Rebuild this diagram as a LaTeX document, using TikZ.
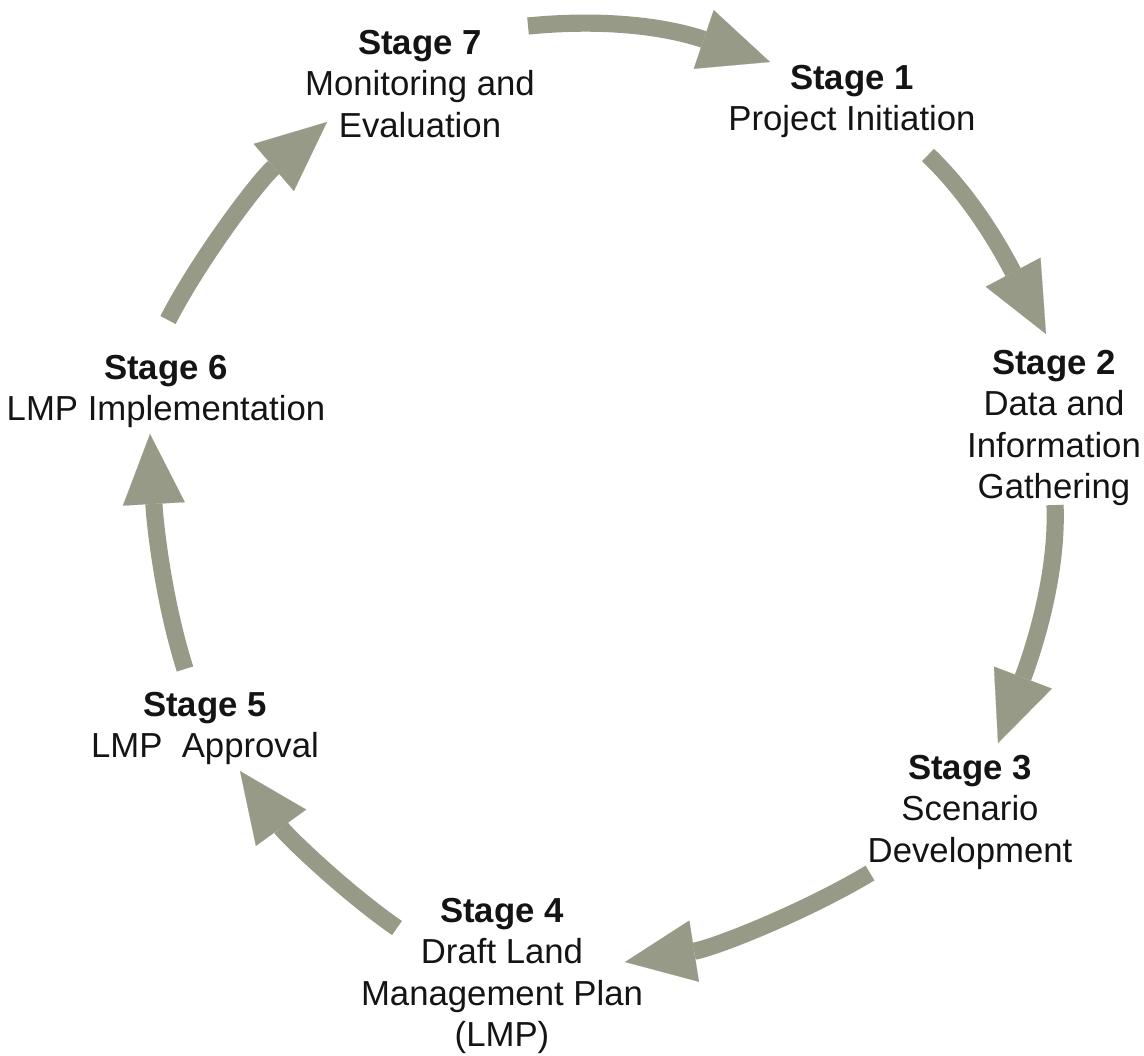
\documentclass[tikz,border=0pt]{standalone}
\usepackage{fontspec}
\setmainfont{Liberation Sans}
\usetikzlibrary{arrows.meta}

\newcommand{\varshaft}{0.43cm}
\newcommand{\varheadl}{1.75cm}
\newcommand{\varheadw}{1.55cm}
\definecolor{mysage}{RGB}{152,154,136}
\definecolor{mytext}{RGB}{20,20,20}

\begin{document}
\begin{tikzpicture}[x=0.025cm, y=-0.025cm,
	stage/.style={anchor=north, inner sep=0pt, align=center, text=mytext, font=\fontsize{24.7}{29.4}\selectfont},
	cyclearrow/.style={draw=mysage, line width=\varshaft, -{Triangle[length=\varheadl, width=\varheadw, line width=0.1pt]}}]

	\useasboundingbox (0,0) rectangle (1144,1055);

	% stages
	\node [stage] (s1) at (852,65) {\textbf{Stage 1}\\Project Initiation};
	\node [stage] (s2) at (1054,350) {\textbf{Stage 2}\\Data and\\Information\\Gathering};
	\node [stage] (s3) at (970,755) {\textbf{Stage 3}\\Scenario\\Development};
	\node [stage] (s4) at (502,898) {\textbf{Stage 4}\\Draft Land\\Management Plan\\(LMP)};
	\node [stage] (s5) at (205,692) {\textbf{Stage 5}\\LMP\ \ Approval};
	\node [stage] (s6) at (166,355) {\textbf{Stage 6}\\LMP Implementation};
	\node [stage] (s7) at (420,30) {\textbf{Stage 7}\\Monitoring and\\Evaluation};

	% arrow ends
	\coordinate (a1) at (928,155);
	\coordinate (b2) at (1046,334);
	\coordinate (a2) at (1055,505);
	\coordinate (b3) at (998,743);
	\coordinate (a3) at (870,873);
	\coordinate (b4) at (625,962);
	\coordinate (a4) at (397,928);
	\coordinate (b5) at (240,771);
	\coordinate (a5) at (185,669);
	\coordinate (b6) at (150,434);
	\coordinate (a6) at (168,320);
	\coordinate (b7) at (327,122);
	\coordinate (a7) at (528,26);
	\coordinate (b1) at (770,62);

	% cycle
	\draw [cyclearrow] (a1) .. controls (975,200) and (1004,255) .. (b2);
	\draw [cyclearrow] (a2) .. controls (1058,580) and (1030,659) .. (b3);
	\draw [cyclearrow] (a3) .. controls (805,912) and (714,948) .. (b4);
	\draw [cyclearrow] (a4) .. controls (345,892) and (287,836) .. (b5);
	\draw [cyclearrow] (a5) .. controls (163,599) and (155,524) .. (b6);
	\draw [cyclearrow] (a6) .. controls (200,258) and (259,180) .. (b7);
	\draw [cyclearrow] (a7) .. controls (610,18) and (670,28) .. (b1);

\end{tikzpicture}
\end{document}
